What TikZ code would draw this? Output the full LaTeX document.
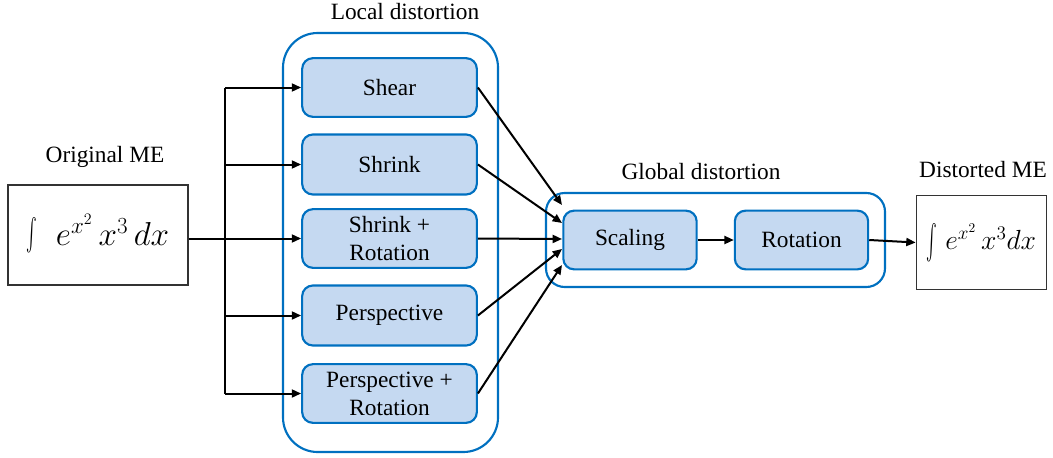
\documentclass[tikz,border=0pt]{standalone}
\usepackage{fontspec}
\newfontfamily\tnr{Liberation Serif}
\usetikzlibrary{arrows.meta,calc}
\definecolor{mblue}{RGB}{0,112,192}
\definecolor{mfill}{RGB}{197,217,241}
\newcommand{\bigintsign}[1]{\vcenter{\hbox{\scalebox{1.2}[#1]{$\int$}}}}
\begin{document}
\begin{tikzpicture}[x=0.75pt,y=-0.75pt,
  every node/.style={font=\tnr\fontsize{17.5}{21}\selectfont},
  group/.style={draw=mblue,line width=1.6pt,rounded corners=26pt},
  proc/.style={draw=mblue,fill=mfill,line width=1.6pt,rounded corners=8pt,align=center,inner sep=0pt},
  mebox/.style={draw=black!80,line width=0.8pt,inner sep=0pt,font=\fontsize{26}{28}\selectfont},
  conn/.style={line width=1.5pt,-{Triangle[length=7pt,width=6pt]}},
  plain/.style={line width=1.5pt}]
\useasboundingbox (0,0) rectangle (1053,457);
% groups
\draw[group] (283,33) rectangle (498,452);
\draw[group,rounded corners=14pt] (546,193) rectangle (885,287);
\node (ltitle) at (405,12) {Local distortion};
\node (gtitle) at (701,172) {Global distortion};
% local boxes
\node[proc,minimum width=131pt,minimum height=44pt] (shear) at (389.5,87.5) {Shear};
\node[proc,minimum width=131pt,minimum height=45pt] (shrink) at (389.5,164.5) {Shrink};
\node[proc,minimum width=131pt,minimum height=44pt] (shrot) at (389.5,238.5) {Shrink +\\Rotation};
\node[proc,minimum width=131pt,minimum height=45pt] (persp) at (389.5,315.5) {Perspective};
\node[proc,minimum width=131pt,minimum height=44pt] (prot) at (389.5,393.5) {Perspective +\\Rotation};
% global boxes
\node[proc,minimum width=100pt,minimum height=44pt] (scal) at (630,240) {Scaling};
\node[proc,minimum width=100pt,minimum height=44pt] (rot) at (801.5,240) {Rotation};
% ME boxes
\node[mebox,minimum width=135pt,minimum height=75pt] (orig) at (98,235) {$\bigintsign{2.4}\;\;e^{x^2}\,x^3\,dx$};
\node (otitle) at (105,157) {Original ME};
\node[mebox,minimum width=98pt,minimum height=71pt,font=\fontsize{20}{22}\selectfont] (dist) at (981.5,242.5) {$\bigintsign{2.6}\;e^{x^2}\,x^3dx$};
\node (dtitle) at (983,170) {Distorted ME};
% branching
\coordinate (b1) at (225,87.5);
\coordinate (b2) at (225,164.5);
\coordinate (b4) at (225,315.5);
\coordinate (b5) at (225,393.5);
\draw[plain] (b1) -- (b5);
\draw[conn] (b1) -- (shear.west);
\draw[conn] (b2) -- (shrink.west);
\draw[conn] (orig.east |- shrot.west) -- (shrot.west);
\draw[conn] (b4) -- (persp.west);
\draw[conn] (b5) -- (prot.west);
% to scaling
\coordinate (t1) at (562,205);
\coordinate (t2) at (562,223);
\coordinate (t3) at (562,239);
\coordinate (t4) at (562,249);
\coordinate (t5) at (562,265);
\draw[conn] (shear.east) -- (t1);
\draw[conn] (shrink.east) -- (t2);
\draw[conn] (shrot.east) -- (t3);
\draw[conn] (persp.east) -- (t4);
\draw[conn] (prot.east) -- (t5);
\draw[conn] (scal.east) -- (rot.west);
\draw[conn] (rot.east) -- (dist.west);
\end{tikzpicture}
\end{document}
